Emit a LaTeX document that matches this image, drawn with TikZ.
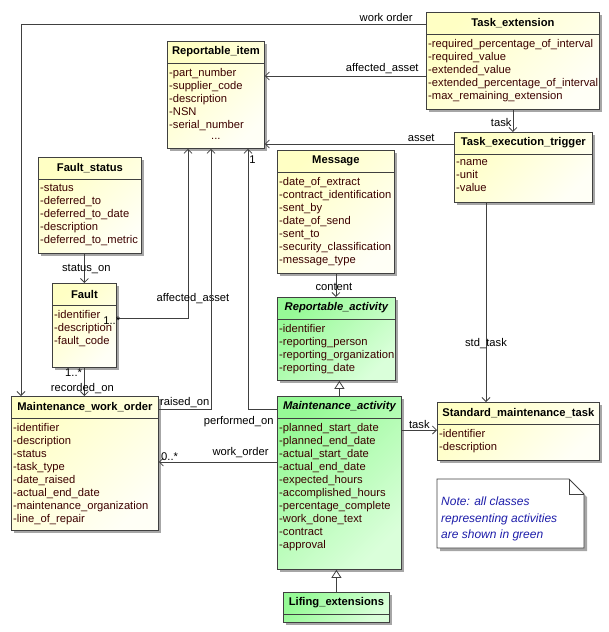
\documentclass[tikz,border=0pt]{standalone}
\usepackage{fontspec}
\setmainfont{Liberation Sans}
\usetikzlibrary{arrows.meta,shadows}

\definecolor{clsyellow}{RGB}{255,255,196}
\definecolor{clspale}{RGB}{255,255,246}
\definecolor{clsgreen}{RGB}{150,250,150}
\definecolor{clsgreenpale}{RGB}{218,255,218}
\definecolor{attrbrown}{RGB}{60,0,0}
\definecolor{noteblue}{RGB}{30,30,170}
\definecolor{edgegray}{RGB}{64,64,64}

% class box: [style] name, x, y, width, height, title, attributes
\newcommand{\umlclass}[8][yellowbox]{%
  \node[#1, minimum width=#5pt, minimum height=#6pt] (#2) at (#3,#4) {};
  \draw[edgegray, line width=0.8pt] ([yshift=-22pt]#2.north west) -- ([yshift=-22pt]#2.north east);
  \node[titletext] at ([yshift=-11pt]#2.north) {#7};
  \node[attrtext] at ([xshift=2pt,yshift=-27pt]#2.north west) {#8};
}

\begin{document}
\begin{tikzpicture}[x=1pt, y=-1pt,
    font=\fontsize{11.2}{13}\selectfont,
    yellowbox/.style={draw=edgegray, line width=0.8pt, anchor=north west, inner sep=0pt,
      top color=clsyellow, bottom color=clspale, shading angle=45,
      drop shadow={shadow xshift=3pt, shadow yshift=-3pt, fill=black!35, opacity=1}},
    greenbox/.style={yellowbox, top color=clsgreen, bottom color=clsgreenpale, shading angle=45},
    titletext/.style={font=\fontsize{11.2}{13}\selectfont\bfseries, inner sep=0pt},
    attrtext/.style={anchor=north west, align=left, inner sep=0pt, text=attrbrown},
    lbl/.style={inner sep=1pt},
    assoc/.style={draw=edgegray, line width=0.8pt, -{Straight Barb[length=4pt, width=8pt]}},
    gen/.style={draw=edgegray, line width=0.8pt, -{Triangle[open, length=8pt, width=10pt]}}]
  \useasboundingbox (0,0) rectangle (609,632);

  \umlclass{taskext}{426}{12}{173}{97}{Task\_extension}{-required\_percentage\_of\_interval\\-required\_value\\-extended\_value\\-extended\_percentage\_of\_interval\\-max\_remaining\_extension}
  \umlclass{repitem}{167}{41}{97}{107}{Reportable\_item}{-part\_number\\-supplier\_code\\-description\\-NSN\\-serial\_number}
  \node[attrtext, anchor=center] (repdots) at ([yshift=-98pt]repitem.north) {...};
  \umlclass{trigger}{454}{132}{138}{70}{Task\_execution\_trigger}{-name\\-unit\\-value}
  \umlclass{message}{277}{150}{117}{123}{Message}{-date\_of\_extract\\-contract\_identification\\-sent\_by\\-date\_of\_send\\-sent\_to\\-security\_classification\\-message\_type}
  \umlclass{faultstatus}{38}{157}{103}{96}{Fault\_status}{-status\\-deferred\_to\\-deferred\_to\_date\\-description\\-deferred\_to\_metric}
  \umlclass{fault}{52}{283}{64}{84}{Fault}{-identifier\\-description\\-fault\_code}
  \umlclass[greenbox]{repact}{277}{297}{118}{83}{\itshape Reportable\_activity}{-identifier\\-reporting\_person\\-reporting\_organization\\-reporting\_date}
  \umlclass[greenbox]{mainact}{277}{396}{124}{173}{\itshape Maintenance\_activity}{-planned\_start\_date\\-planned\_end\_date\\-actual\_start\_date\\-actual\_end\_date\\-expected\_hours\\-accomplished\_hours\\-percentage\_complete\\-work\_done\_text\\-contract\\-approval}
  \umlclass[greenbox]{lifing}{283}{592}{106}{30}{Lifing\_extensions}{}
  \umlclass{stdtask}{437}{402}{162}{58}{Standard\_maintenance\_task}{-identifier\\-description}
  \umlclass{mwo}{11}{396}{147}{134}{Maintenance\_work\_order}{-identifier\\-description\\-status\\-task\_type\\-date\_raised\\-actual\_end\_date\\-maintenance\_organization\\-line\_of\_repair}

  \draw[edgegray, line width=0.8pt, fill=white, drop shadow={shadow xshift=3pt, shadow yshift=-3pt, fill=black!35, opacity=1}]
    (437,479) -- (569,479) -- (584,494) -- (584,548) -- (437,548) -- cycle;
  \draw[edgegray, line width=0.8pt] (569,479) -- (569,494) -- (584,494);
  \node[anchor=north west, align=left, inner sep=0pt, text=noteblue, font=\fontsize{12}{16.5}\selectfont\itshape] (note) at (441,497)
    {Note: all classes\\representing activities\\are shown in green};

  \draw[assoc] (taskext.west |- 0,24) node[lbl, anchor=south east, xshift=-12pt, yshift=1pt] {work order} -| (mwo.north -| 21,0);
  \draw[assoc] (taskext.west |- 0,76) node[lbl, anchor=south east, xshift=-6pt, yshift=1pt] {affected\_asset} -- (repitem.east |- 0,76);
  \draw[assoc] (taskext.south) -- node[lbl, left, pos=0.56] {task} (taskext.south |- trigger.north);
  \draw[assoc] (trigger.west |- 0,144) node[lbl, anchor=south east, xshift=-18pt, yshift=1pt] {asset} -- (repitem.east |- 0,144);
  \draw[assoc] (trigger.south -| 486,0) -- node[lbl, pos=0.705] {std\_task} (stdtask.north -| 486,0);
  \draw[assoc] (fault.north |- faultstatus.south) -- node[lbl, pos=0.53, xshift=2pt] {status\_on} (fault.north);
  \draw[assoc] (fault.east |- 0,318) node[lbl, xshift=-5pt, yshift=-3pt] {1..*} -| node[lbl, pos=0.556, xshift=5pt] {affected\_asset} (repitem.south -| 188,0);
  \draw[assoc] (mwo.east |- 0,409) node[lbl, anchor=south west] {raised\_on} -| (repitem.south -| 211,0);
  \draw[assoc] (mainact.west |- 0,409) node[lbl, anchor=north east, xshift=-2pt, yshift=-6pt] {performed\_on} -| (repitem.south -| 248,0) node[lbl, anchor=north west, yshift=-6pt] {1};
  \draw[assoc] (mainact.west |- 0,462) node[lbl, anchor=south east, xshift=-7pt, yshift=3pt] {work\_order} -- (mwo.east |- 0,462) node[lbl, anchor=south west, xshift=1pt] {0..*};
  \draw[assoc] (fault.south) node[lbl, anchor=north east, xshift=-1pt] {1..*} -- node[lbl, pos=0.72, xshift=-2pt] {recorded\_on} (fault.south |- mwo.north);
  \draw[assoc] (message.south) -- node[lbl, pos=0.56, xshift=-2pt] {content} (message.south |- repact.north);
  \draw[assoc] (mainact.east |- 0,430) -- node[lbl, above] {task} (stdtask.west |- 0,430);
  \draw[gen] (mainact.north) -- (mainact.north |- repact.south);
  \draw[gen] (lifing.north) -- (lifing.north |- mainact.south);
\end{tikzpicture}
\end{document}
